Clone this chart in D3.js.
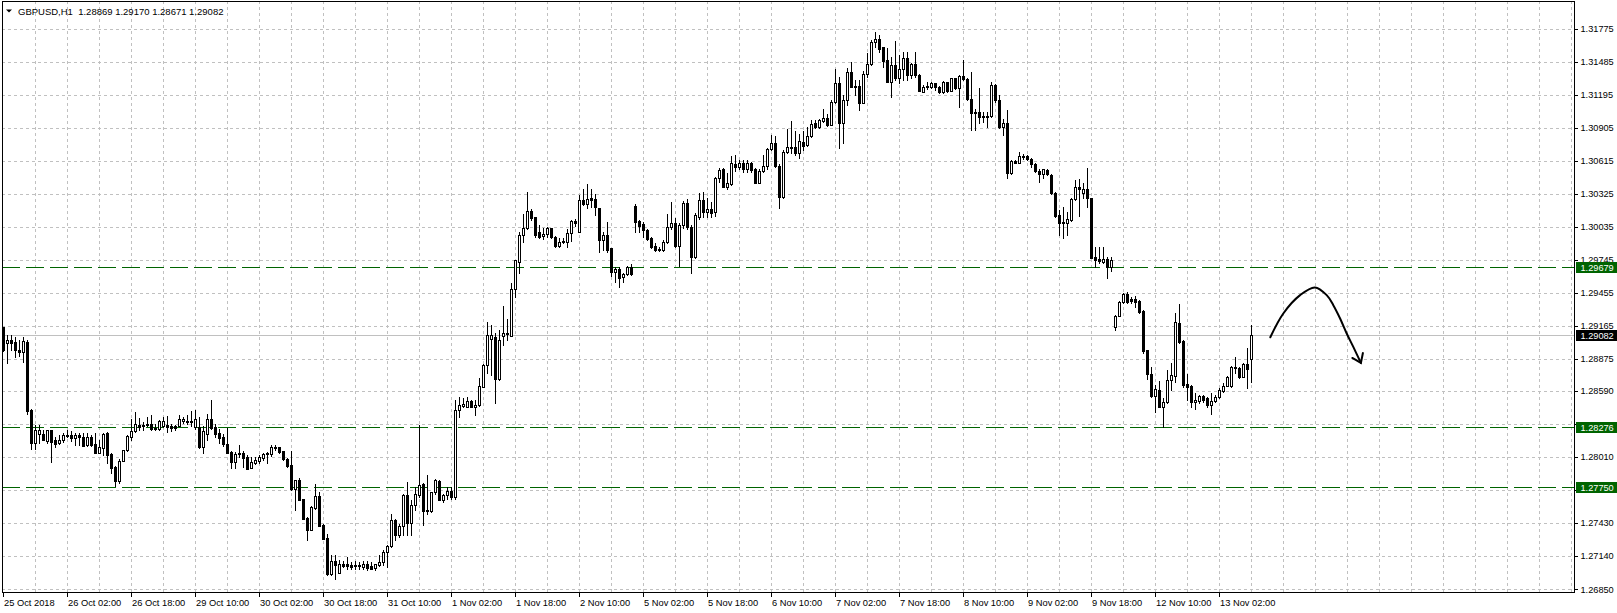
<!DOCTYPE html>
<html>
<head>
<meta charset="utf-8">
<script src="https://cdn.jsdelivr.net/npm/d3@7"></script>
<style>
  body { margin: 0; background: #fff; }
  text { font-family: "Liberation Sans", Arial, sans-serif; }
</style>
</head>
<body>
<svg id="chart" width="1617" height="613"></svg>
<script>
// GBPUSD H1, one entry per hourly bar (bar 0 = 25 Oct 2018 10:00)
const symbol = "GBPUSD,H1";

const open = [
  1.29148, 1.29012, 1.29042, 1.29021, 1.28954, 1.28934, 1.29018, 1.28421, 1.28133, 1.28216,
  1.28216, 1.28151, 1.28245, 1.28163, 1.28133, 1.28157, 1.28207, 1.28201, 1.28181, 1.28201,
  1.28186, 1.28113, 1.28186, 1.28122, 1.28046, 1.28093, 1.28221, 1.28035, 1.27923, 1.27803,
  1.27976, 1.28070, 1.28186, 1.28236, 1.28295, 1.28295, 1.28304, 1.28304, 1.28269, 1.28254,
  1.28286, 1.28292, 1.28283, 1.28286, 1.28283, 1.28322, 1.28327, 1.28327, 1.28274, 1.28274,
  1.28098, 1.28210, 1.28348, 1.28274, 1.28221, 1.28186, 1.28128, 1.28052, 1.27962, 1.28046,
  1.28046, 1.28011, 1.27909, 1.27958, 1.27976, 1.28002, 1.28041, 1.28032, 1.28089, 1.28095,
  1.28061, 1.27988, 1.27941, 1.27733, 1.27806, 1.27642, 1.27478, 1.27372, 1.27566, 1.27671,
  1.27413, 1.27296, 1.26980, 1.27094, 1.26991, 1.27074, 1.27068, 1.27065, 1.27062, 1.27059,
  1.27044, 1.27074, 1.27053, 1.27035, 1.27059, 1.27088, 1.27176, 1.27228, 1.27454, 1.27322,
  1.27404, 1.27680, 1.27430, 1.27586, 1.27674, 1.27777, 1.27542, 1.27531, 1.27698, 1.27803,
  1.27630, 1.27674, 1.27709, 1.27654, 1.28427, 1.28462, 1.28450, 1.28500, 1.28445, 1.28465,
  1.28626, 1.28817, 1.29051, 1.29060, 1.28691, 1.29074, 1.29089, 1.29074, 1.29482, 1.29725,
  1.29959, 1.30018, 1.30168, 1.30120, 1.29988, 1.29948, 1.29965, 1.30018, 1.29944, 1.29865,
  1.29906, 1.29900, 1.29974, 1.30085, 1.29988, 1.30264, 1.30234, 1.30282, 1.30276, 1.30199,
  1.29915, 1.29959, 1.29842, 1.29637, 1.29661, 1.29588, 1.29617, 1.29681, 1.30217, 1.30082,
  1.30056, 1.30003, 1.29930, 1.29862, 1.29836, 1.29828, 1.29895, 1.30032, 1.30067, 1.29865,
  1.30047, 1.30243, 1.30032, 1.29764, 1.30120, 1.30267, 1.30164, 1.30185, 1.30164, 1.30458,
  1.30537, 1.30384, 1.30408, 1.30584, 1.30560, 1.30590, 1.30540, 1.30590, 1.30540, 1.30419,
  1.30525, 1.30569, 1.30712, 1.30765, 1.30569, 1.30296, 1.30687, 1.30730, 1.30730, 1.30678,
  1.30779, 1.30747, 1.30832, 1.30941, 1.30911, 1.30964, 1.30985, 1.30926, 1.31126, 1.31293,
  1.30941, 1.31146, 1.31390, 1.31272, 1.31269, 1.31122, 1.31375, 1.31463, 1.31653, 1.31679,
  1.31609, 1.31498, 1.31307, 1.31454, 1.31337, 1.31416, 1.31513, 1.31366, 1.31463, 1.31366,
  1.31219, 1.31258, 1.31263, 1.31293, 1.31258, 1.31219, 1.31302, 1.31228, 1.31337, 1.31249,
  1.31357, 1.31328, 1.31152, 1.31029, 1.31043, 1.31005, 1.30994, 1.31008, 1.31278, 1.31146,
  1.30906, 1.30941, 1.30502, 1.30610, 1.30595, 1.30654, 1.30654, 1.30628, 1.30584, 1.30525,
  1.30493, 1.30531, 1.30487, 1.30331, 1.30135, 1.30076, 1.30067, 1.30091, 1.30276, 1.30379,
  1.30326, 1.30361, 1.30282, 1.29764, 1.29749, 1.29725, 1.29749, 1.29676, 1.29153, 1.29253,
  1.29368, 1.29441, 1.29397, 1.29397, 1.29379, 1.29291, 1.28949, 1.28738, 1.28544, 1.28597,
  1.28450, 1.28491, 1.28685, 1.28723, 1.29183, 1.29027, 1.28647, 1.28632, 1.28494, 1.28503,
  1.28544, 1.28524, 1.28471, 1.28503, 1.28538, 1.28591, 1.28635, 1.28635, 1.28797, 1.28788,
  1.28714, 1.28826, 1.28869
];

const high = [
  1.29153, 1.29086, 1.29086, 1.29060, 1.29042, 1.29060, 1.29036, 1.28436, 1.28289, 1.28289,
  1.28251, 1.28251, 1.28245, 1.28186, 1.28204, 1.28221, 1.28245, 1.28236, 1.28221, 1.28221,
  1.28221, 1.28221, 1.28204, 1.28221, 1.28157, 1.28221, 1.28230, 1.28041, 1.27929, 1.27988,
  1.28075, 1.28201, 1.28348, 1.28401, 1.28353, 1.28318, 1.28357, 1.28383, 1.28298, 1.28333,
  1.28357, 1.28368, 1.28298, 1.28295, 1.28377, 1.28362, 1.28377, 1.28410, 1.28421, 1.28357,
  1.28286, 1.28392, 1.28515, 1.28298, 1.28260, 1.28216, 1.28269, 1.28064, 1.28055, 1.28113,
  1.28064, 1.28026, 1.28011, 1.28006, 1.28029, 1.28041, 1.28055, 1.28113, 1.28113, 1.28098,
  1.28064, 1.27997, 1.28064, 1.27806, 1.27821, 1.27645, 1.27483, 1.27577, 1.27771, 1.27703,
  1.27419, 1.27337, 1.27147, 1.27147, 1.27103, 1.27097, 1.27132, 1.27088, 1.27094, 1.27088,
  1.27094, 1.27094, 1.27088, 1.27074, 1.27147, 1.27191, 1.27234, 1.27513, 1.27469, 1.27419,
  1.27689, 1.27791, 1.27630, 1.27747, 1.28289, 1.27782, 1.27850, 1.27703, 1.27815, 1.27806,
  1.27689, 1.27747, 1.27742, 1.28509, 1.28538, 1.28524, 1.28538, 1.28509, 1.28509, 1.28700,
  1.28826, 1.29192, 1.29168, 1.29100, 1.29130, 1.29335, 1.29221, 1.29535, 1.29740, 1.29988,
  1.30144, 1.30335, 1.30191, 1.30120, 1.30047, 1.30018, 1.30032, 1.30021, 1.29950, 1.29930,
  1.29930, 1.30015, 1.30091, 1.30103, 1.30314, 1.30367, 1.30405, 1.30361, 1.30317, 1.30199,
  1.29988, 1.30073, 1.29842, 1.29681, 1.29681, 1.29628, 1.29690, 1.29702, 1.30229, 1.30091,
  1.30076, 1.30009, 1.29944, 1.29886, 1.29851, 1.29915, 1.30141, 1.30247, 1.30106, 1.30062,
  1.30258, 1.30273, 1.30047, 1.30150, 1.30326, 1.30340, 1.30282, 1.30252, 1.30472, 1.30551,
  1.30551, 1.30502, 1.30654, 1.30663, 1.30619, 1.30619, 1.30619, 1.30604, 1.30546, 1.30537,
  1.30663, 1.30721, 1.30838, 1.30829, 1.30584, 1.30707, 1.30891, 1.30961, 1.30873, 1.30844,
  1.30873, 1.30911, 1.30970, 1.30970, 1.30976, 1.31064, 1.31020, 1.31146, 1.31419, 1.31346,
  1.31190, 1.31430, 1.31483, 1.31322, 1.31322, 1.31404, 1.31557, 1.31673, 1.31741, 1.31717,
  1.31614, 1.31600, 1.31527, 1.31664, 1.31542, 1.31571, 1.31571, 1.31474, 1.31571, 1.31372,
  1.31278, 1.31307, 1.31307, 1.31298, 1.31272, 1.31313, 1.31307, 1.31342, 1.31342, 1.31366,
  1.31498, 1.31337, 1.31395, 1.31064, 1.31249, 1.31043, 1.31038, 1.31307, 1.31287, 1.31187,
  1.30976, 1.31058, 1.30619, 1.30619, 1.30692, 1.30669, 1.30663, 1.30634, 1.30590, 1.30537,
  1.30540, 1.30540, 1.30493, 1.30337, 1.30179, 1.30208, 1.30164, 1.30282, 1.30443, 1.30449,
  1.30414, 1.30546, 1.30287, 1.29851, 1.29851, 1.29851, 1.29764, 1.29764, 1.29259, 1.29379,
  1.29447, 1.29461, 1.29417, 1.29423, 1.29388, 1.29300, 1.28954, 1.28797, 1.28641, 1.28676,
  1.28524, 1.28773, 1.28832, 1.29276, 1.29353, 1.29036, 1.28735, 1.28641, 1.28568, 1.28559,
  1.28559, 1.28538, 1.28568, 1.28559, 1.28612, 1.28656, 1.28720, 1.28808, 1.28890, 1.28802,
  1.28832, 1.28968, 1.29170
];

const low = [
  1.28943, 1.28837, 1.28954, 1.28890, 1.28896, 1.28846, 1.28392, 1.28084, 1.28081, 1.28133,
  1.28157, 1.28133, 1.27964, 1.28098, 1.28122, 1.28142, 1.28186, 1.28151, 1.28119, 1.28119,
  1.28107, 1.28107, 1.28107, 1.28046, 1.28041, 1.28026, 1.27953, 1.27865, 1.27759, 1.27782,
  1.27971, 1.28064, 1.28157, 1.28230, 1.28245, 1.28245, 1.28280, 1.28245, 1.28245, 1.28245,
  1.28274, 1.28230, 1.28239, 1.28245, 1.28283, 1.28309, 1.28304, 1.28283, 1.28260, 1.28093,
  1.28046, 1.28163, 1.28257, 1.28186, 1.28133, 1.28104, 1.28041, 1.27909, 1.27914, 1.28011,
  1.27923, 1.27906, 1.27909, 1.27947, 1.27958, 1.27982, 1.27958, 1.28020, 1.28070, 1.28041,
  1.27982, 1.27923, 1.27718, 1.27548, 1.27630, 1.27466, 1.27284, 1.27366, 1.27557, 1.27401,
  1.27290, 1.26971, 1.26971, 1.26942, 1.26991, 1.27044, 1.27024, 1.27030, 1.27030, 1.27030,
  1.27030, 1.27021, 1.27024, 1.27021, 1.27053, 1.27059, 1.27044, 1.27219, 1.27278, 1.27307,
  1.27322, 1.27322, 1.27322, 1.27548, 1.27659, 1.27410, 1.27513, 1.27524, 1.27689, 1.27630,
  1.27615, 1.27645, 1.27645, 1.27639, 1.28357, 1.28450, 1.28445, 1.28445, 1.28377, 1.28456,
  1.28621, 1.28744, 1.28729, 1.28485, 1.28685, 1.28992, 1.29036, 1.29074, 1.29412, 1.29623,
  1.29900, 1.30009, 1.30091, 1.29944, 1.29930, 1.29927, 1.29939, 1.29930, 1.29856, 1.29856,
  1.29891, 1.29851, 1.29909, 1.30038, 1.29983, 1.30226, 1.30199, 1.30208, 1.30135, 1.29813,
  1.29828, 1.29813, 1.29599, 1.29549, 1.29505, 1.29549, 1.29608, 1.29608, 1.29988, 1.29988,
  1.29944, 1.29915, 1.29842, 1.29822, 1.29819, 1.29819, 1.29889, 1.30009, 1.29856, 1.29690,
  1.30018, 1.30009, 1.29628, 1.29755, 1.30103, 1.30120, 1.30120, 1.30120, 1.30129, 1.30423,
  1.30384, 1.30367, 1.30402, 1.30525, 1.30540, 1.30516, 1.30516, 1.30516, 1.30419, 1.30419,
  1.30516, 1.30540, 1.30707, 1.30560, 1.30199, 1.30287, 1.30678, 1.30683, 1.30663, 1.30634,
  1.30707, 1.30741, 1.30818, 1.30897, 1.30897, 1.30955, 1.30917, 1.30926, 1.31117, 1.30726,
  1.30765, 1.31102, 1.31258, 1.31190, 1.31058, 1.31117, 1.31351, 1.31454, 1.31614, 1.31571,
  1.31439, 1.31307, 1.31175, 1.31322, 1.31293, 1.31322, 1.31322, 1.31337, 1.31351, 1.31228,
  1.31219, 1.31240, 1.31249, 1.31234, 1.31210, 1.31210, 1.31219, 1.31228, 1.31243, 1.31082,
  1.31322, 1.31146, 1.30882, 1.30882, 1.30946, 1.30955, 1.30911, 1.30999, 1.31131, 1.30902,
  1.30838, 1.30458, 1.30493, 1.30590, 1.30590, 1.30625, 1.30619, 1.30560, 1.30516, 1.30428,
  1.30458, 1.30484, 1.30320, 1.30120, 1.29959, 1.29930, 1.29959, 1.30085, 1.30267, 1.30126,
  1.30282, 1.30208, 1.29755, 1.29681, 1.29711, 1.29711, 1.29579, 1.29646, 1.29124, 1.29247,
  1.29359, 1.29364, 1.29359, 1.29329, 1.29276, 1.28920, 1.28697, 1.28538, 1.28406, 1.28445,
  1.28274, 1.28485, 1.28597, 1.28670, 1.29012, 1.28621, 1.28509, 1.28450, 1.28436, 1.28485,
  1.28494, 1.28450, 1.28392, 1.28489, 1.28524, 1.28582, 1.28635, 1.28626, 1.28744, 1.28705,
  1.28709, 1.28612, 1.28671
];

const close = [
  1.28949, 1.29042, 1.29012, 1.28954, 1.28934, 1.29025, 1.28412, 1.28133, 1.28251, 1.28251,
  1.28157, 1.28245, 1.28142, 1.28122, 1.28157, 1.28207, 1.28195, 1.28175, 1.28201, 1.28186,
  1.28107, 1.28186, 1.28113, 1.28046, 1.28098, 1.28216, 1.28029, 1.27912, 1.27797, 1.27976,
  1.28070, 1.28195, 1.28236, 1.28304, 1.28274, 1.28283, 1.28289, 1.28254, 1.28254, 1.28324,
  1.28327, 1.28271, 1.28269, 1.28269, 1.28348, 1.28348, 1.28318, 1.28315, 1.28348, 1.28098,
  1.28236, 1.28342, 1.28265, 1.28210, 1.28177, 1.28128, 1.28046, 1.27964, 1.28032, 1.28032,
  1.28002, 1.27906, 1.27962, 1.27982, 1.28011, 1.28035, 1.28032, 1.28098, 1.28098, 1.28055,
  1.27994, 1.27932, 1.27733, 1.27806, 1.27636, 1.27466, 1.27372, 1.27571, 1.27671, 1.27407,
  1.27290, 1.26980, 1.27097, 1.27065, 1.27074, 1.27053, 1.27053, 1.27044, 1.27048, 1.27050,
  1.27068, 1.27033, 1.27030, 1.27068, 1.27088, 1.27176, 1.27228, 1.27454, 1.27322, 1.27404,
  1.27680, 1.27430, 1.27586, 1.27683, 1.27768, 1.27536, 1.27531, 1.27698, 1.27806, 1.27630,
  1.27674, 1.27709, 1.27659, 1.28427, 1.28471, 1.28474, 1.28500, 1.28445, 1.28471, 1.28632,
  1.28817, 1.29086, 1.29086, 1.28691, 1.29036, 1.29100, 1.29100, 1.29482, 1.29740, 1.29959,
  1.30018, 1.30168, 1.30111, 1.29959, 1.29939, 1.29968, 1.30018, 1.29939, 1.29865, 1.29897,
  1.29897, 1.29979, 1.30080, 1.30062, 1.30264, 1.30234, 1.30276, 1.30267, 1.30208, 1.29915,
  1.29959, 1.29833, 1.29637, 1.29661, 1.29579, 1.29617, 1.29681, 1.29617, 1.30076, 1.30041,
  1.30003, 1.29924, 1.29856, 1.29828, 1.29828, 1.29895, 1.30032, 1.30062, 1.29865, 1.30047,
  1.30243, 1.30027, 1.29764, 1.30135, 1.30267, 1.30164, 1.30185, 1.30155, 1.30458, 1.30531,
  1.30384, 1.30414, 1.30590, 1.30560, 1.30590, 1.30540, 1.30590, 1.30531, 1.30419, 1.30525,
  1.30569, 1.30712, 1.30765, 1.30569, 1.30296, 1.30687, 1.30730, 1.30721, 1.30678, 1.30788,
  1.30741, 1.30832, 1.30935, 1.30906, 1.30970, 1.30985, 1.30926, 1.31131, 1.31293, 1.30941,
  1.31146, 1.31390, 1.31263, 1.31263, 1.31122, 1.31375, 1.31463, 1.31653, 1.31679, 1.31597,
  1.31492, 1.31307, 1.31454, 1.31337, 1.31416, 1.31513, 1.31366, 1.31463, 1.31366, 1.31228,
  1.31263, 1.31269, 1.31293, 1.31258, 1.31219, 1.31302, 1.31228, 1.31337, 1.31249, 1.31357,
  1.31328, 1.31152, 1.31029, 1.31043, 1.30999, 1.30994, 1.31008, 1.31278, 1.31146, 1.30906,
  1.30941, 1.30502, 1.30610, 1.30595, 1.30654, 1.30643, 1.30625, 1.30581, 1.30525, 1.30493,
  1.30537, 1.30493, 1.30326, 1.30129, 1.30062, 1.30062, 1.30097, 1.30276, 1.30379, 1.30364,
  1.30361, 1.30282, 1.29760, 1.29740, 1.29731, 1.29749, 1.29681, 1.29740, 1.29253, 1.29368,
  1.29438, 1.29373, 1.29382, 1.29373, 1.29285, 1.28943, 1.28735, 1.28544, 1.28606, 1.28450,
  1.28491, 1.28685, 1.28729, 1.29192, 1.29021, 1.28641, 1.28626, 1.28494, 1.28515, 1.28547,
  1.28509, 1.28471, 1.28503, 1.28538, 1.28597, 1.28635, 1.28714, 1.28797, 1.28788, 1.28714,
  1.28826, 1.28779, 1.29082
];

// time axis: label every 16 bars
const timeTickBars = [0, 16, 32, 48, 64, 80, 96, 112, 128, 144, 160, 176, 192, 208, 224, 240, 256, 272, 288, 304];
const timeLabels = ["25 Oct 2018", "26 Oct 02:00", "26 Oct 18:00", "29 Oct 10:00", "30 Oct 02:00",
  "30 Oct 18:00", "31 Oct 10:00", "1 Nov 02:00", "1 Nov 18:00", "2 Nov 10:00", "5 Nov 02:00",
  "5 Nov 18:00", "6 Nov 10:00", "7 Nov 02:00", "7 Nov 18:00", "8 Nov 10:00", "9 Nov 02:00",
  "9 Nov 18:00", "12 Nov 10:00", "13 Nov 02:00"];

const priceTicks = [1.31775, 1.31485, 1.31195, 1.30905, 1.30615, 1.30325, 1.30035, 1.29745, 1.29455,
  1.29165, 1.28875, 1.28590, 1.28300, 1.28010, 1.27720, 1.27430, 1.27140, 1.26850];

// horizontal levels drawn on the chart
const levels = [1.29679, 1.28276, 1.27750];

// hand drawn forecast arrow (bar position, price)
const arrowBars = [316.75, 320, 324.2, 327.9, 330.85, 332.5, 334.2, 335.85, 337.5, 339.4];
const arrowPrices = [1.29062, 1.29271, 1.29432, 1.29500, 1.29432, 1.29344, 1.29227, 1.29095, 1.28977, 1.28837];
const arrowHeadBars = [337.25, 339.4, 339.9];
const arrowHeadPrices = [1.28880, 1.28837, 1.28924];

// ---- layout ----
const W = 1617, H = 613;
const plotLeft = 2, plotTop = 1, plotRight = 1574, plotBottom = 593;
const green = "#006400";
const fmt = d3.format(".5f");

const x = d3.scaleLinear().domain([0, 392]).range([3.3, 1571.3]);
const y = d3.scaleLinear().domain([1.26850, 1.31775]).range([589, 28.5]);
const px = v => Math.round(v) + 0.5;

const svg = d3.select("#chart");
svg.append("rect").attr("width", W).attr("height", H).attr("fill", "#fff");

svg.append("clipPath").attr("id", "plot")
  .append("rect")
  .attr("x", plotLeft).attr("y", plotTop)
  .attr("width", plotRight - plotLeft).attr("height", plotBottom - plotTop);

// grid
const grid = svg.append("g")
  .attr("stroke", "#c0c0c0")
  .attr("stroke-dasharray", "3,3")
  .attr("shape-rendering", "crispEdges");

grid.selectAll("line.h")
  .data(priceTicks)
  .join("line")
  .attr("class", "h")
  .attr("x1", plotLeft).attr("x2", plotRight)
  .attr("y1", d => px(y(d))).attr("y2", d => px(y(d)));

grid.selectAll("line.v")
  .data(d3.range(8, 393, 8))
  .join("line")
  .attr("class", "v")
  .attr("y1", plotTop).attr("y2", plotBottom)
  .attr("x1", d => px(x(d))).attr("x2", d => px(x(d)));

// last price line
const last = close.length - 1;
svg.append("line")
  .attr("x1", plotLeft).attr("x2", plotRight)
  .attr("y1", px(y(close[last]))).attr("y2", px(y(close[last])))
  .attr("stroke", "#c0c0c0")
  .attr("shape-rendering", "crispEdges");

// level lines
svg.append("g")
  .selectAll("line")
  .data(levels)
  .join("line")
  .attr("x1", plotLeft).attr("x2", plotRight)
  .attr("y1", d => px(y(d))).attr("y2", d => px(y(d)))
  .attr("stroke", green)
  .attr("stroke-dasharray", "18,6")
  .attr("shape-rendering", "crispEdges");

// candles
const bars = d3.range(open.length);
const candles = svg.append("g")
  .attr("clip-path", "url(#plot)")
  .attr("shape-rendering", "crispEdges");

candles.selectAll("line")
  .data(bars)
  .join("line")
  .attr("x1", i => px(x(i))).attr("x2", i => px(x(i)))
  .attr("y1", i => Math.round(y(high[i])))
  .attr("y2", i => Math.round(y(low[i])) + 1)
  .attr("stroke", "#000");

candles.selectAll("path")
  .data(bars)
  .join("path")
  .attr("d", i => {
    const cx = Math.round(x(i));
    const a = Math.round(y(open[i])), b = Math.round(y(close[i]));
    const t = Math.min(a, b) + 0.5, bt = Math.max(a, b) + 0.5;
    return `M${cx - 0.5},${t}H${cx + 1.5}V${bt}H${cx - 0.5}Z`;
  })
  .attr("fill", i => close[i] >= open[i] ? "#fff" : "#000")
  .attr("stroke", "#000");

// arrow
const arrowLine = d3.line()
  .x((d, i) => x(arrowBars[i]))
  .y((d, i) => y(arrowPrices[i]))
  .curve(d3.curveCatmullRom);

svg.append("path")
  .attr("d", arrowLine(arrowBars))
  .attr("fill", "none")
  .attr("stroke", "#000")
  .attr("stroke-width", 2)
  .attr("stroke-linecap", "round");

svg.append("path")
  .attr("d", d3.line().x((d, i) => x(arrowHeadBars[i])).y((d, i) => y(arrowHeadPrices[i]))(arrowHeadBars))
  .attr("fill", "none")
  .attr("stroke", "#000")
  .attr("stroke-width", 2)
  .attr("stroke-linejoin", "miter")
  .attr("stroke-linecap", "round");

// frame
svg.append("rect")
  .attr("x", plotLeft + 0.5).attr("y", plotTop + 0.5)
  .attr("width", plotRight - plotLeft).attr("height", plotBottom - plotTop - 1)
  .attr("fill", "none")
  .attr("stroke", "#000")
  .attr("shape-rendering", "crispEdges");

// price tags on the axis (levels + last close)
const tags = levels.map(v => ({ v, bg: green })).concat([{ v: close[last], bg: "#000" }]);

// price axis; a tick label fully covered by a tag is not written
const hidden = d => tags.some(t => Math.abs(y(t.v) - y(d)) < 3);
const yAxis = svg.append("g").attr("font-size", "9.2px").attr("fill", "#000");
yAxis.selectAll("line")
  .data(priceTicks)
  .join("line")
  .attr("x1", plotRight).attr("x2", plotRight + 4)
  .attr("y1", d => px(y(d))).attr("y2", d => px(y(d)))
  .attr("stroke", "#000")
  .attr("shape-rendering", "crispEdges");
yAxis.selectAll("text")
  .data(priceTicks.filter(d => !hidden(d)))
  .join("text")
  .attr("x", 1580.5)
  .attr("y", d => y(d) + 3.5)
  .text(d => fmt(d));

const tagG = svg.append("g").attr("font-size", "9.2px");
tagG.selectAll("rect")
  .data(tags)
  .join("rect")
  .attr("x", 1576).attr("y", d => Math.round(y(d.v)) - 5)
  .attr("width", 41).attr("height", 11)
  .attr("fill", d => d.bg);
tagG.selectAll("text")
  .data(tags)
  .join("text")
  .attr("x", 1580.5)
  .attr("y", d => Math.round(y(d.v)) + 4)
  .attr("fill", "#fff")
  .text(d => fmt(d.v));

// time axis
const xAxis = svg.append("g").attr("font-size", "9.3px").attr("fill", "#000");
xAxis.selectAll("line")
  .data(timeTickBars)
  .join("line")
  .attr("x1", d => px(x(d))).attr("x2", d => px(x(d)))
  .attr("y1", plotBottom).attr("y2", plotBottom + 4)
  .attr("stroke", "#000")
  .attr("shape-rendering", "crispEdges");
xAxis.selectAll("text")
  .data(timeTickBars)
  .join("text")
  .attr("x", d => Math.round(x(d)) + 1)
  .attr("y", 606)
  .text((d, i) => timeLabels[i]);

// title
svg.append("path")
  .attr("d", "M6,9.5H12L9,12.5Z")
  .attr("fill", "#000");
svg.append("text")
  .attr("x", 18).attr("y", 14.5)
  .attr("font-size", "9.5px")
  .attr("fill", "#000")
  .attr("xml:space", "preserve")
  .text(`${symbol}  ${fmt(open[last])} ${fmt(high[last])} ${fmt(low[last])} ${fmt(close[last])}`);
</script>
</body>
</html>
